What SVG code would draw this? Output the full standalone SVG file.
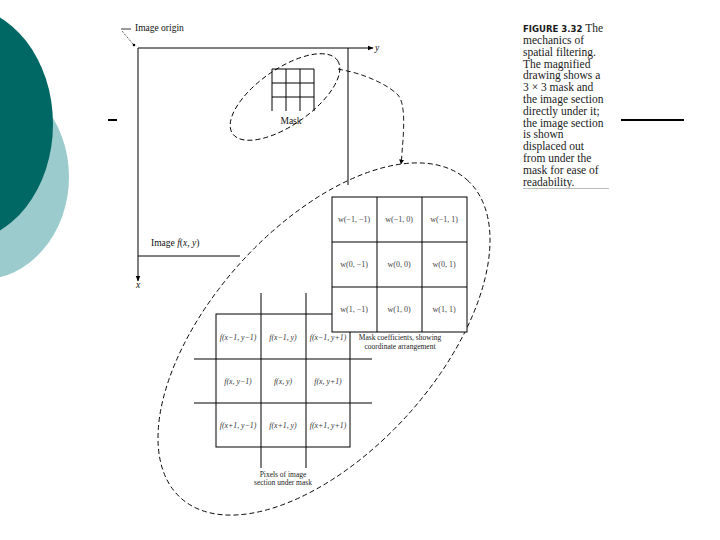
<svg xmlns="http://www.w3.org/2000/svg" width="720" height="540" viewBox="0 0 720 540">
<style>
.ln{stroke:#000;stroke-width:1;fill:none}
.dash{stroke:#000;stroke-width:0.9;fill:none;stroke-dasharray:5 3}
.lbl{font-family:"Liberation Serif",serif;font-size:9.5px;fill:#111}
.cell{font-family:"Liberation Serif",serif;font-size:8px;fill:#444;text-anchor:middle}
.pcell{font-family:"Liberation Serif",serif;font-size:7.8px;fill:#333;text-anchor:middle;font-style:italic}
.cap{font-family:"Liberation Serif",serif;font-size:7.5px;fill:#222;text-anchor:middle}
.fig{font-family:"Liberation Serif",serif;font-size:11.5px;fill:#1a1a1a}
</style>
<defs>
<marker id="arr" viewBox="0 0 10 10" refX="9" refY="5" markerWidth="6" markerHeight="6" orient="auto" markerUnits="userSpaceOnUse">
<path d="M0,1 L10,5 L0,9 Z" fill="#000"/>
</marker>
<marker id="arr2" viewBox="0 0 10 10" refX="9" refY="5" markerWidth="5" markerHeight="5" orient="auto" markerUnits="userSpaceOnUse">
<path d="M0,0 L10,5 L0,10 Z" fill="#000"/>
</marker>
</defs>
<rect width="720" height="540" fill="#fff"/>
<g id="decor">
<ellipse cx="-20" cy="177" rx="89" ry="103" fill="#9bcbcc"/>
<ellipse cx="-40" cy="124" rx="93" ry="118" fill="#006864"/>
<line x1="108" y1="120" x2="117" y2="120" stroke="#000" stroke-width="2"/>
<line x1="621" y1="120" x2="684" y2="120" stroke="#000" stroke-width="2"/>
</g>
<g id="image">
<line class="ln" x1="138" y1="48" x2="373" y2="48" marker-end="url(#arr)"/>
<line class="ln" x1="138" y1="48" x2="138" y2="281" marker-end="url(#arr)"/>
<line class="ln" x1="348" y1="48" x2="348" y2="185"/>
<line class="ln" x1="138" y1="256" x2="240" y2="256"/>
<text class="lbl" x="375" y="51" font-style="italic">y</text>
<text class="lbl" x="136" y="288" font-style="italic">x</text>
<text class="lbl" x="151" y="246" font-size="10px">Image <tspan font-style="italic">f</tspan>(<tspan font-style="italic">x</tspan>, <tspan font-style="italic">y</tspan>)</text>
</g>
<g id="origin">
<line x1="121" y1="29" x2="131" y2="29" stroke="#000" stroke-width="0.8"/>
<line x1="122" y1="31" x2="133" y2="44" stroke="#000" stroke-width="0.8" stroke-dasharray="1 1"/>
<circle cx="134" cy="45" r="1.3" fill="#000"/>
<text class="lbl" x="135" y="31">Image origin</text>
</g>
<g id="mask-small">
<path class="ln" d="M272,69H314M272,83H314M272,97H314M272,69V111M286,69V111M300,69V111M314,69V111"/>
<text class="lbl" x="291" y="124" text-anchor="middle">Mask</text>
<ellipse class="dash" cx="285" cy="97" rx="64" ry="28" transform="rotate(-35 285 97)" stroke-dasharray="4 2.5"/>
</g>
<g id="connectors">
<path class="dash" d="M338,69 L352,72 C370,77 388,85 398,95 C405,103 404,125 403,140 C402,150 402,157 401,164" stroke-dasharray="4 2.5" marker-end="url(#arr2)"/>
</g>
<g id="big-ellipse">
<ellipse class="dash" cx="324" cy="339" rx="214" ry="113" transform="rotate(-48 324 339)" stroke-dasharray="6 3"/>
</g>
<g id="pixels">
<rect x="216" y="314" width="134" height="133" fill="#fff" stroke="#000" stroke-width="1"/>
<path class="ln" d="M194,359H372M194,403H372M261,293V468M306,293V468"/>
<text class="pcell" x="238" y="340">f(x−1, y−1)</text>
<text class="pcell" x="283" y="340">f(x−1, y)</text>
<text class="pcell" x="328" y="340">f(x−1, y+1)</text>
<text class="pcell" x="238" y="384">f(x, y−1)</text>
<text class="pcell" x="283" y="384">f(x, y)</text>
<text class="pcell" x="328" y="384">f(x, y+1)</text>
<text class="pcell" x="238" y="428">f(x+1, y−1)</text>
<text class="pcell" x="283" y="428">f(x+1, y)</text>
<text class="pcell" x="328" y="428">f(x+1, y+1)</text>
<text class="cap" x="283" y="477">Pixels of image</text>
<text class="cap" x="283" y="485">section under mask</text>
</g>
<g id="mask-coeffs">
<rect x="332" y="197" width="135" height="135" fill="#fff" stroke="#000" stroke-width="1"/>
<path class="ln" d="M332,242H467M332,287H467M377,197V332M422,197V332"/>
<text class="cell" x="354" y="222">w(−1, −1)</text>
<text class="cell" x="399" y="222">w(−1, 0)</text>
<text class="cell" x="444" y="222">w(−1, 1)</text>
<text class="cell" x="354" y="267">w(0, −1)</text>
<text class="cell" x="399" y="267">w(0, 0)</text>
<text class="cell" x="444" y="267">w(0, 1)</text>
<text class="cell" x="354" y="312">w(1, −1)</text>
<text class="cell" x="399" y="312">w(1, 0)</text>
<text class="cell" x="444" y="312">w(1, 1)</text>
<text class="cap" x="400" y="340">Mask coefficients, showing</text>
<text class="cap" x="400" y="349">coordinate arrangement</text>
</g>
<g id="caption">
<text class="fig" x="523" y="32"><tspan font-family="'DejaVu Sans Condensed','DejaVu Sans',sans-serif" font-weight="bold" font-size="9.5px">FIGURE 3.32</tspan>  The</text>
<text class="fig" x="523" y="44">mechanics of</text>
<text class="fig" x="523" y="55.5">spatial filtering.</text>
<text class="fig" x="523" y="67.5">The magnified</text>
<text class="fig" x="523" y="79">drawing shows a</text>
<text class="fig" x="523" y="91">3 × 3 mask and</text>
<text class="fig" x="523" y="103">the image section</text>
<text class="fig" x="523" y="114.5">directly under it;</text>
<text class="fig" x="523" y="126.5">the image section</text>
<text class="fig" x="523" y="138">is shown</text>
<text class="fig" x="523" y="150">displaced out</text>
<text class="fig" x="523" y="162">from under the</text>
<text class="fig" x="523" y="173.5">mask for ease of</text>
<text class="fig" x="523" y="185.5">readability.</text>
<line x1="523" y1="188.5" x2="609" y2="188.5" stroke="#bbb" stroke-width="1"/>
</g>
</svg>
